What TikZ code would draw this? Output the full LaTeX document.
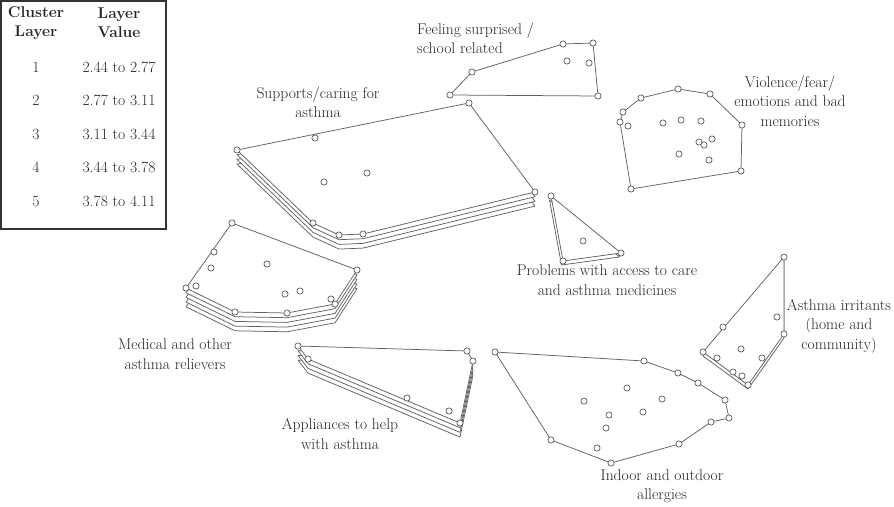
\documentclass[tikz,border=0pt]{standalone}
\begin{document}
\begin{tikzpicture}[x=1pt,y=-1pt,
    hull/.style={draw=black!62, line width=0.75pt, fill=white, line join=round},
    stmt/.style={circle, draw=black!65, line width=0.7pt, fill=white, inner sep=0pt, minimum size=6.2pt},
    lbl/.style={text=black!85, font=\fontsize{15.6}{19.5}\selectfont, align=center, inner sep=0pt},
    cell/.style={text=black!85, font=\fontsize{15.6}{19}\selectfont, inner sep=0pt}]
    \useasboundingbox (0,0) rectangle (894,506);

    % legend
    \draw[black!80, line width=1.4pt] (1,1) rectangle (166,229);
    \node[cell, font=\fontsize{15.6}{19}\selectfont\bfseries, align=center] (hcl) at (36,23) {Cluster\\Layer};
    \node[cell, font=\fontsize{15.6}{19}\selectfont\bfseries, align=center] (hlv) at (119,23) {Layer\\Value};
    \node[cell] (l1) at (36,67) {1};  \node[cell] (v1) at (119,67) {2.44 to 2.77};
    \node[cell] (l2) at (36,100) {2}; \node[cell] (v2) at (119,100) {2.77 to 3.11};
    \node[cell] (l3) at (36,134) {3}; \node[cell] (v3) at (119,134) {3.11 to 3.44};
    \node[cell] (l4) at (36,167) {4}; \node[cell] (v4) at (119,167) {3.44 to 3.78};
    \node[cell] (l5) at (36,201) {5}; \node[cell] (v5) at (119,201) {3.78 to 4.11};

    % feeling surprised (1 layer)
    \draw[hull] (450,95) -- (472,72) -- (563,44) -- (593,43) -- (598,96) -- cycle;
    \foreach \p [count=\i] in {(450,95),(472,72),(563,44),(593,43),(598,96),(567,61),(589,63)}
        \node[stmt] (fs\i) at \p {};
    \node[lbl, align=left, anchor=west] (fslbl) at (417,38) {Feeling surprised /\\school related};

    % supports/caring (4 layers)
    \foreach \k in {3,2,1,0}
        \draw[hull, shift={(0,4.7*\k)}] (237,150) -- (469,103) -- (535,192) -- (363,234) -- (339,235) -- (313,223) -- cycle;
    \foreach \p [count=\i] in {(237,150),(469,103),(535,192),(363,234),(339,235),(313,223),(315,138),(324,182),(367,173)}
        \node[stmt] (sc\i) at \p {};
    \node[lbl] (sclbl) at (318,102) {Supports/caring for\\asthma};

    % violence/fear (1 layer)
    \draw[hull] (620,122) -- (623,112) -- (641,98) -- (678,89) -- (710,94) -- (742,125) -- (741,171) -- (631,189) -- cycle;
    \foreach \p [count=\i] in {(620,122),(623,112),(641,98),(678,89),(710,94),(742,125),(741,171),(631,189),
        (628,126),(663,123),(681,120),(701,121),(699,142),(704,145),(712,139),(679,154),(709,160)}
        \node[stmt] (vf\i) at \p {};
    \node[lbl] (vflbl) at (790,101) {Violence/fear/\\emotions and bad\\memories};

    % medical relievers (5 layers)
    \foreach \k in {4,3,2,1,0}
        \draw[hull, shift={(0,4.7*\k)}] (186,288) -- (232,223) -- (357,270) -- (335,304) -- (287,313) -- (235,312) -- cycle;
    \foreach \p [count=\i] in {(186,288),(232,223),(357,270),(335,304),(287,313),(235,312),
        (214,252),(211,268),(196,286),(267,264),(285,294),(300,291),(331,299)}
        \node[stmt] (mr\i) at \p {};
    \node[lbl] (mrlbl) at (175,354) {Medical and other\\asthma relievers};

    % appliances (4 layers)
    \foreach \k in {3,2,1,0}
        \draw[hull, shift={(0,4.7*\k)}] (298,346) -- (467,351) -- (473,361) -- (460,423) -- (308,359) -- cycle;
    \foreach \p [count=\i] in {(298,346),(467,351),(473,361),(460,423),(308,359),(407,398),(449,411)}
        \node[stmt] (ap\i) at \p {};
    \node[lbl] (aplbl) at (340,434) {Appliances to help\\with asthma};

    % problems with access (2 layers)
    \foreach \k in {1,0}
        \draw[hull, shift={(-1.5*\k,4*\k)}] (551,196) -- (621,253) -- (563,261) -- cycle;
    \foreach \p [count=\i] in {(551,196),(621,253),(563,261),(583,241)}
        \node[stmt] (pa\i) at \p {};
    \node[lbl] (palbl) at (607,280) {Problems with access to care\\and asthma medicines};

    % asthma irritants (2 layers)
    \foreach \k in {1,0}
        \draw[hull, shift={(0,4*\k)}] (784,257) -- (784,334) -- (748,385) -- (703,352) -- cycle;
    \foreach \p [count=\i] in {(784,257),(784,334),(748,385),(703,352),(723,327),(777,317),
        (741,349),(717,358),(762,358),(733,372),(742,376)}
        \node[stmt] (ai\i) at \p {};
    \node[lbl] (ailbl) at (839,326) {Asthma irritants\\(home and\\community)};

    % indoor/outdoor allergies (1 layer)
    \draw[hull] (495,352) -- (644,361) -- (678,373) -- (698,383) -- (725,400) -- (729,418) -- (711,422)
        -- (679,444) -- (611,463) -- (551,440) -- cycle;
    \foreach \p [count=\i] in {(495,352),(644,361),(678,373),(698,383),(725,400),(729,418),(711,422),
        (679,444),(611,463),(551,440),(584,401),(627,388),(662,399),(643,412),(609,415),(606,428),(597,448)}
        \node[stmt] (io\i) at \p {};
    \node[lbl] (iolbl) at (662,486) {Indoor and outdoor\\allergies};
\end{tikzpicture}
\end{document}
